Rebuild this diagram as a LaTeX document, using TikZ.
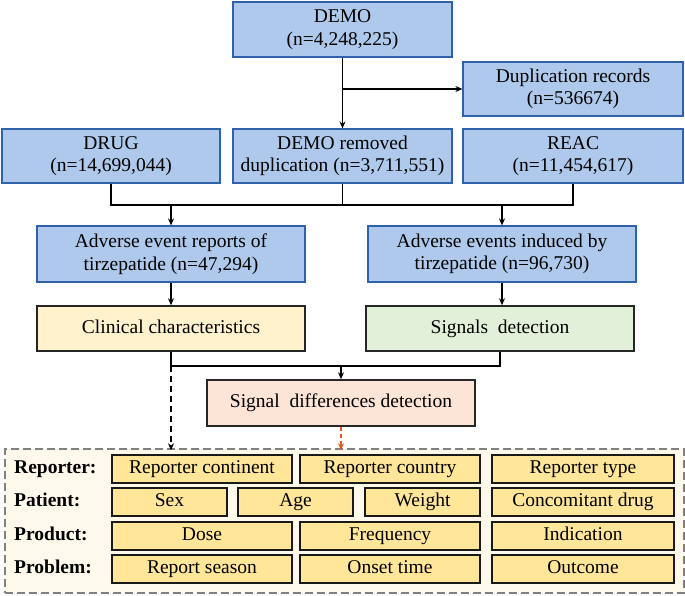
\documentclass[tikz,border=0pt]{standalone}
\usepackage{fontspec}
\setmainfont{Liberation Serif}
\usepackage{tikz}
\usetikzlibrary{arrows.meta,positioning,calc}
\usepackage{xcolor}
\definecolor{boxblue}{RGB}{47,98,170}
\definecolor{fillblue}{RGB}{174,201,235}
\definecolor{clinyellow}{RGB}{255,242,204}
\definecolor{siggreen}{RGB}{226,240,217}
\definecolor{sdpeach}{RGB}{252,228,214}
\definecolor{itemyellow}{RGB}{255,230,153}
\definecolor{framecream}{RGB}{255,249,236}
\definecolor{framegrey}{RGB}{128,128,128}
\definecolor{dashorange}{RGB}{230,85,30}

\begin{document}
\begin{tikzpicture}[x=1pt, y=-1pt,
    txt/.style={font=\fontsize{19.5}{22.5}\selectfont},
    dbox/.style={rectangle, draw=boxblue, line width=1.2pt, fill=fillblue,
        align=center, inner sep=2pt, txt},
    stagebox/.style={rectangle, draw=black!85, line width=1.5pt, inner sep=2pt,
        minimum width=268pt, minimum height=45pt, text height=13.5pt, text depth=4pt, txt},
    item/.style={rectangle, draw=black!90, line width=1.5pt, fill=itemyellow,
        minimum height=28pt, inner sep=1pt, text height=13.5pt, text depth=4pt, txt},
    rowlab/.style={anchor=west, inner sep=0pt, text height=13.5pt, text depth=4pt,
        font=\fontsize{19.5}{22.5}\selectfont\bfseries},
    arr/.style={-{Stealth[length=7pt,width=6pt]}, line width=1.1pt},
    line/.style={line width=1.1pt}
]
    \useasboundingbox (0,0) rectangle (685,596);

    \node[dbox, minimum width=219pt, minimum height=55pt] (demo) at (342.5,29.5) {DEMO\\(n=4,248,225)};
    \node[dbox, minimum width=220pt, minimum height=54pt] (dup) at (573,89) {Duplication records\\(n=536674)};
    \node[dbox, minimum width=218pt, minimum height=54pt] (drug) at (111,156) {DRUG\\(n=14,699,044)};
    \node[dbox, minimum width=219pt, minimum height=54pt] (demor) at (342.5,156) {DEMO removed\\duplication (n=3,711,551)};
    \node[dbox, minimum width=220pt, minimum height=54pt] (reac) at (573,156) {REAC\\(n=11,454,617)};

    \node[dbox, minimum width=268pt, minimum height=56pt] (aer) at (171,254) {Adverse event reports of\\tirzepatide (n=47,294)};
    \node[dbox, minimum width=268pt, minimum height=56pt] (aei) at (502,254) {Adverse events induced by\\tirzepatide (n=96,730)};

    \node[stagebox, fill=clinyellow] (clin) at (171,328.5) {Clinical characteristics};
    \node[stagebox, fill=siggreen] (sig) at (500,328.5) {Signals\ \ detection};
    \node[stagebox, fill=sdpeach, minimum height=46pt] (sdd) at (341,403) {Signal\ \ differences detection};

    \node[rectangle, draw=framegrey, fill=framecream, line width=1.5pt,
        dash pattern=on 8pt off 4pt, minimum width=679pt, minimum height=144pt] (frame) at (344.5,521) {};

    \node[rowlab] (rep) at (14,469) {Reporter:};
    \node[rowlab] (pat) at (14,502) {Patient:};
    \node[rowlab] (prod) at (14,536) {Product:};
    \node[rowlab] (prob) at (14,569) {Problem:};

    \node[item, minimum width=180pt] (repc) at (202,469) {Reporter continent};
    \node[item, minimum width=180pt] (repn) at (390,469) {Reporter country};
    \node[item, minimum width=182pt] (rept) at (583,469) {Reporter type};

    \node[item, minimum width=115pt] (sex) at (169.5,502) {Sex};
    \node[item, minimum width=115pt] (age) at (295.5,502) {Age};
    \node[item, minimum width=115pt] (wgt) at (422.5,502) {Weight};
    \node[item, minimum width=182pt] (cdrug) at (583,502) {Concomitant drug};

    \node[item, minimum width=180pt] (dose) at (202,536) {Dose};
    \node[item, minimum width=180pt] (freq) at (390,536) {Frequency};
    \node[item, minimum width=182pt] (ind) at (583,536) {Indication};

    \node[item, minimum width=180pt] (seas) at (202,569) {Report season};
    \node[item, minimum width=180pt] (onset) at (390,569) {Onset time};
    \node[item, minimum width=182pt] (outc) at (583,569) {Outcome};

    \draw[arr] (demo) -- (demor);
    \draw[arr] (demo.south |- dup.west) -- (dup.west);

    \coordinate (bus) at (0,205);
    \draw[line] (drug.south) -- (bus -| drug.south) -| (reac.south);
    \draw[line] (demor.south) -- (bus -| demor.south);
    \draw[arr] (bus -| aer.north) -- (aer.north);
    \draw[arr] (bus -| aei.north) -- (aei.north);

    \draw[arr] (aer) -- (clin);
    \draw[arr] (aei.south) -- (aei.south |- sig.north);

    \coordinate (jn) at (0,366);
    \draw[line] (clin.south) -- (jn -| clin.south) -| (sig.south);
    \draw[arr] (jn -| sdd.north) -- (sdd.north);

    \draw[arr, dash pattern=on 6pt off 4pt] (jn -| clin.south) -- ([yshift=-2pt]frame.north -| clin.south);
    \draw[arr, dashorange, dash pattern=on 4pt off 3pt] (sdd.south) -- ([yshift=-2pt]frame.north -| sdd.south);
\end{tikzpicture}
\end{document}
